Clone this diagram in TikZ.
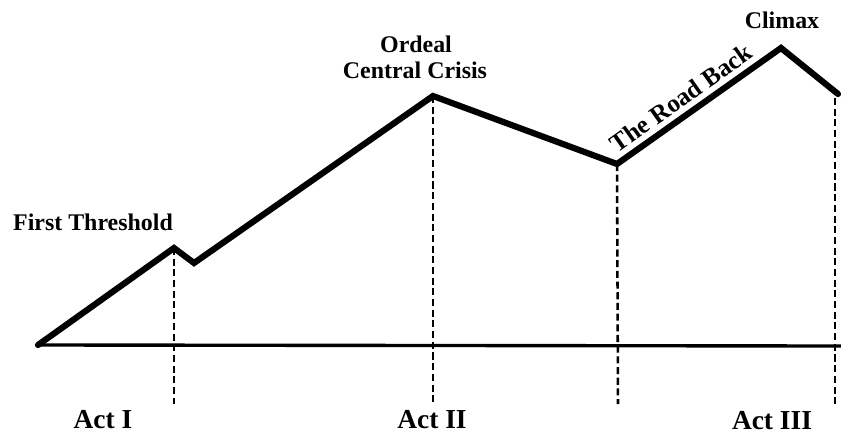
\documentclass[tikz,border=0pt]{standalone}
\usepackage{fontspec}
\setmainfont{Liberation Serif}
\usepackage{tikz}
\usetikzlibrary{positioning,calc}

\begin{document}
\begin{tikzpicture}[
  x=0.025cm, y=-0.025cm,
  arc/.style={line width=4.4pt, line join=miter, line cap=round},
  base/.style={line width=2.4pt},
  actline/.style={line width=1.8pt, dash pattern=on 5pt off 2.6pt},
  beat/.style={font=\bfseries\fontsize{17}{19}\selectfont, inner sep=1pt},
  act/.style={font=\bfseries\fontsize{19.5}{22}\selectfont, inner sep=1pt}
]
\useasboundingbox (0,0) rectangle (841,434);
% story curve
\coordinate (start) at (38,345);
\coordinate (thresh) at (174,248);
\coordinate (dip) at (194,263);
\coordinate (ordeal) at (433,96);
\coordinate (valley) at (617,164);
\coordinate (climax) at (781,48);
\coordinate (finish) at (838,94);
\coordinate (baseend) at (841,346);
\draw[base] (start) -- (baseend);
\draw[arc] (start) -- (thresh) -- (dip) -- (ordeal) -- (valley) -- (climax) -- (finish);
% act markers
\coordinate (fintop) at (835,98);
\coordinate (a1) at (174,404);
\coordinate (a2) at (433,404);
\coordinate (a3) at (618,404);
\coordinate (a4) at (835,404);
\draw[actline] (thresh) -- (a1);
\draw[actline] (ordeal) -- (a2);
\draw[actline] (valley) -- (a3);
\draw[actline] (fintop) -- (a4);
% labels
\node[beat] (ft) at (93,222) {First Threshold};
\node[beat] (ord) at (416,44) {Ordeal};
\node[beat] (cc) at (415,70) {Central Crisis};
\node[beat] (clx) at (782,20) {Climax};
\path (valley) -- node[beat, font=\bfseries\fontsize{18}{20}\selectfont, sloped, above=4.5pt, pos=0.45] (rb) {The Road Back} (climax);
\node[act] (act1) at (103,420) {Act I};
\node[act] (act2) at (432,420) {Act II};
\node[act] (act3) at (772,421) {Act III};
\end{tikzpicture}
\end{document}
